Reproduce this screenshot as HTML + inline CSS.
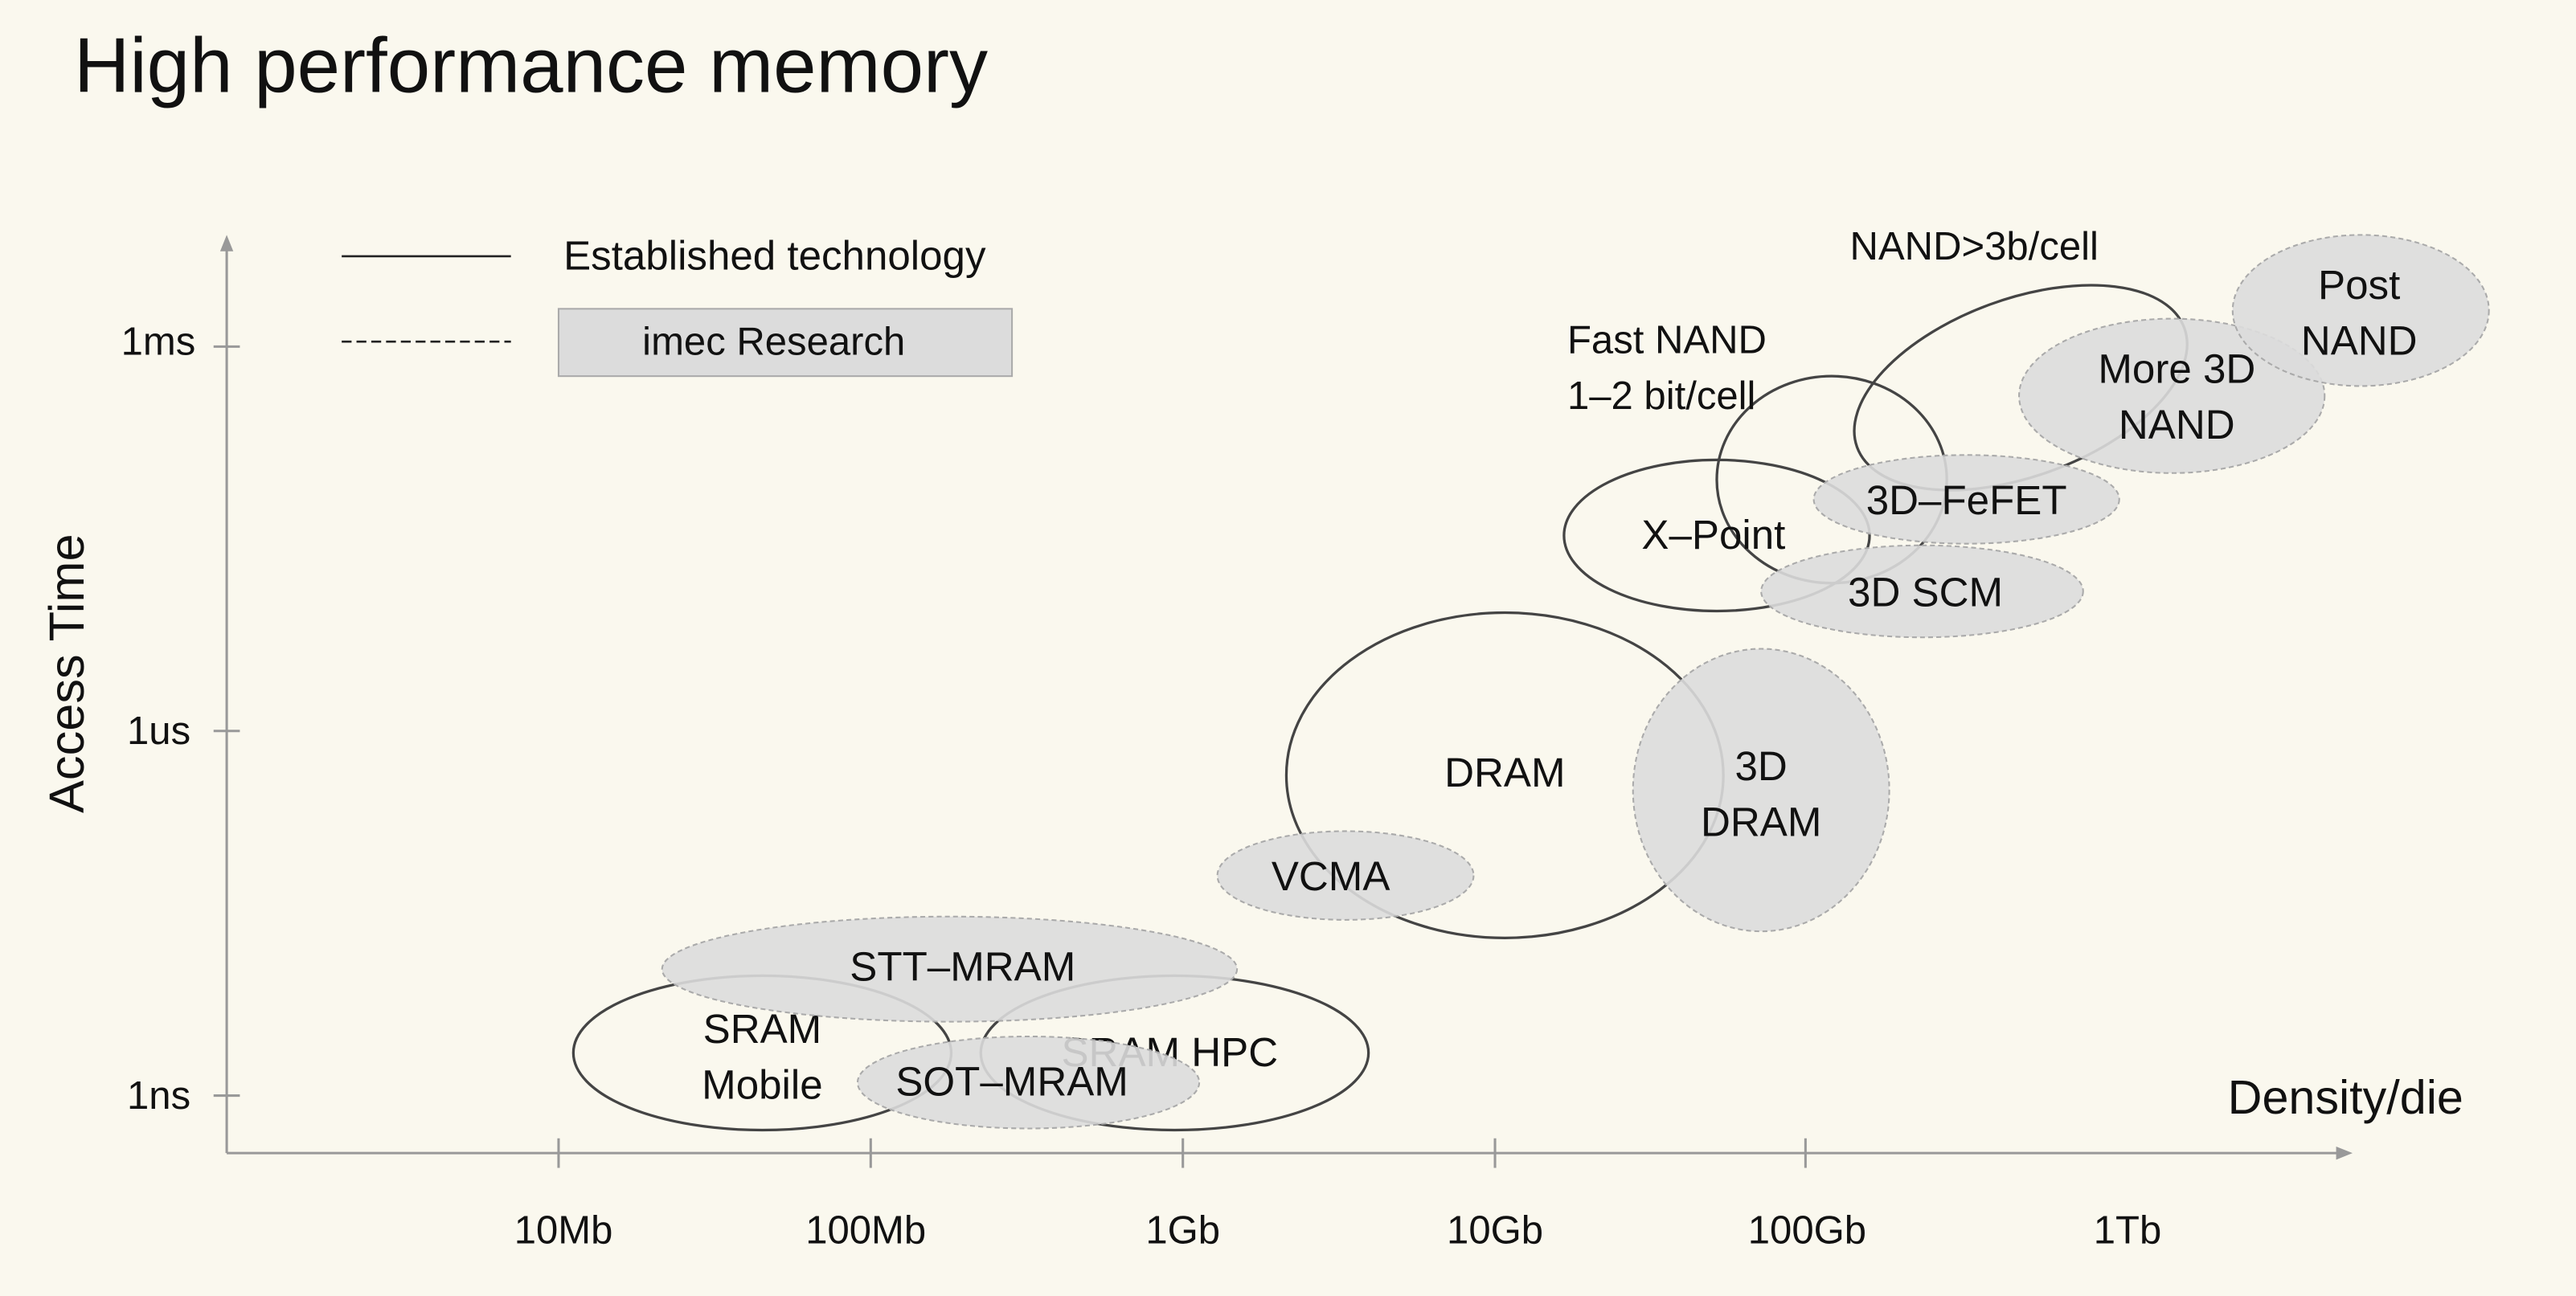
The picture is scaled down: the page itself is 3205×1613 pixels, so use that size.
<!DOCTYPE html>
<html><head><style>html,body{margin:0;padding:0;background:#faf8ee;}svg{display:block}</style></head>
<body>
<svg width="3205" height="1613" viewBox="0 0 1568 789" preserveAspectRatio="none" xmlns="http://www.w3.org/2000/svg" font-family="Liberation Sans, sans-serif">
<rect width="1568" height="789" fill="#faf8ee"/>
<text x="45" y="56" font-size="47" fill="#111">High performance memory</text>
<!-- axes -->
<g stroke="#999" stroke-width="1.5" fill="none">
<line x1="138" y1="150" x2="138" y2="702"/>
<line x1="138" y1="702" x2="1425" y2="702"/>
<line x1="130" y1="211" x2="146" y2="211"/><line x1="130" y1="445" x2="146" y2="445"/><line x1="130" y1="667" x2="146" y2="667"/>
<line x1="340" y1="693" x2="340" y2="711"/><line x1="530" y1="693" x2="530" y2="711"/><line x1="720" y1="693" x2="720" y2="711"/><line x1="910" y1="693" x2="910" y2="711"/><line x1="1099" y1="693" x2="1099" y2="711"/>
</g>
<polygon points="138,143 134,153 142,153" fill="#999"/>
<polygon points="1432,702 1422,698 1422,706" fill="#999"/>
<g font-size="24" fill="#111" text-anchor="end">
<text x="119" y="216">1ms</text><text x="116" y="453">1us</text><text x="116" y="675">1ns</text>
</g>
<g font-size="24" fill="#111" text-anchor="middle">
<text x="343" y="757">10Mb</text><text x="527" y="757">100Mb</text><text x="720" y="757">1Gb</text><text x="910" y="757">10Gb</text><text x="1100" y="757">100Gb</text><text x="1295" y="757">1Tb</text>
</g>
<text transform="translate(51,410) rotate(-90)" font-size="30" text-anchor="middle" fill="#111">Access Time</text>
<text x="1356" y="678" font-size="29" fill="#111">Density/die</text>
<!-- legend -->
<line x1="208" y1="156" x2="311" y2="156" stroke="#222" stroke-width="1.3"/>
<text x="343" y="164" font-size="25" fill="#111">Established technology</text>
<line x1="208" y1="208" x2="311" y2="208" stroke="#222" stroke-width="1.3" stroke-dasharray="6,3"/>
<rect x="340" y="188" width="276" height="41" fill="#dcdcdc" stroke="#aaa"/>
<text x="471" y="216" font-size="24" text-anchor="middle" fill="#111">imec Research</text>
<!-- shapes -->
<g fill="none" stroke="#444" stroke-width="1.6">
<ellipse cx="464" cy="641" rx="115" ry="47"/>
<ellipse cx="715" cy="641" rx="118" ry="47"/>
<ellipse cx="916" cy="472" rx="133" ry="99"/>
<ellipse cx="1045" cy="326" rx="93" ry="46"/>
<ellipse cx="1115" cy="292" rx="70" ry="63"/>
<ellipse cx="1230" cy="236" rx="106" ry="54" transform="rotate(-20 1230 236)"/>
</g>
<g font-size="25" fill="#111" text-anchor="middle">
<text x="464" y="635">SRAM</text><text x="464" y="669">Mobile</text>
<text x="712" y="649">SRAM HPC</text>
<text x="916" y="479">DRAM</text>
<text x="1043" y="334">X–Point</text>
</g>
<g fill="#dcdcdc" fill-opacity="0.9" stroke="#aaa" stroke-width="1" stroke-dasharray="3,2">
<ellipse cx="578" cy="590" rx="175" ry="32"/>
<ellipse cx="626" cy="659" rx="104" ry="28"/>
<ellipse cx="819" cy="533" rx="78" ry="27"/>
<ellipse cx="1072" cy="481" rx="78" ry="86"/>
<ellipse cx="1197" cy="304" rx="93" ry="27"/>
<ellipse cx="1170" cy="360" rx="98" ry="28"/>
<ellipse cx="1322" cy="241" rx="93" ry="47"/>
<ellipse cx="1437" cy="189" rx="78" ry="46"/>
</g>
<g font-size="25" fill="#111" text-anchor="middle">
<text x="586" y="597">STT–MRAM</text>
<text x="616" y="667">SOT–MRAM</text>
<text x="810" y="542">VCMA</text>
<text x="1072" y="475">3D</text><text x="1072" y="509">DRAM</text>
<text x="1197" y="313">3D–FeFET</text>
<text x="1172" y="369">3D SCM</text>
<text x="1325" y="233">More 3D</text><text x="1325" y="267">NAND</text>
<text x="1436" y="182">Post</text><text x="1436" y="216">NAND</text>
</g>
<g font-size="24" fill="#111">
<text x="954" y="215">Fast NAND</text><text x="954" y="249">1–2 bit/cell</text>
<text x="1126" y="158">NAND&gt;3b/cell</text>
</g>
</svg>
</body></html>
